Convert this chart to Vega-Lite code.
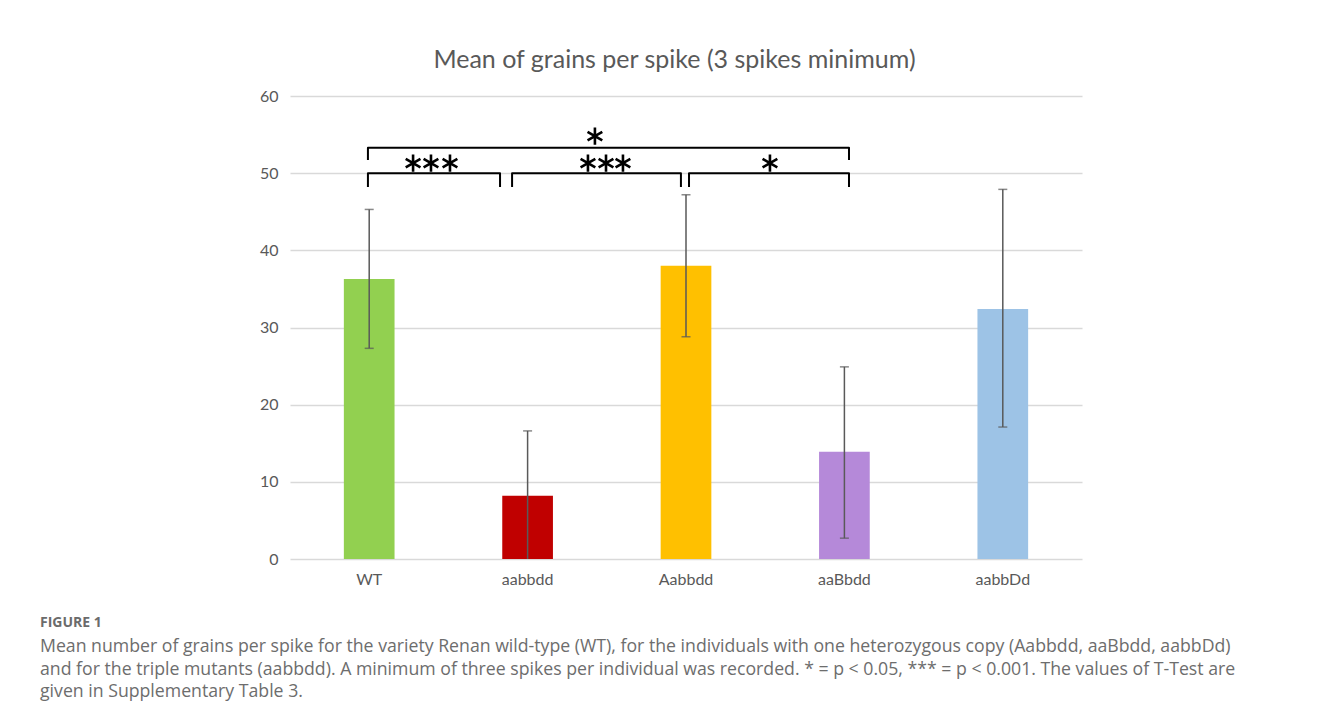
{
  "$schema": "https://vega.github.io/schema/vega-lite/v6.json",
  "autosize": "none",
  "width": 792,
  "height": 463,
  "padding": {"left": 290, "top": 96, "right": 237, "bottom": 165},
  "background": "white",
  "config": {
    "view": {"stroke": null},
    "font": "Lato",
    "axisY": {
      "title": null,
      "grid": true,
      "gridColor": "#d9d9d9",
      "gridWidth": 1.5,
      "domain": false,
      "ticks": false,
      "labelFont": "Lato",
      "labelFontSize": 16,
      "labelColor": "#595959",
      "labelPadding": 12
    }
  },
  "title": {
    "text": "FIGURE 1",
    "subtitle": [
      "Mean number of grains per spike for the variety Renan wild-type (WT), for the individuals with one heterozygous copy (Aabbdd, aaBbdd, aabbDd)",
      "and for the triple mutants (aabbdd). A minimum of three spikes per individual was recorded. * = p < 0.05, *** = p < 0.001. The values of T-Test are",
      "given in Supplementary Table 3."
    ],
    "orient": "bottom",
    "anchor": "start",
    "frame": "group",
    "dx": -250,
    "offset": 29,
    "font": "Open Sans",
    "fontSize": 14,
    "fontWeight": "bold",
    "color": "#6b6b6b",
    "subtitleFont": "Open Sans",
    "subtitleFontSize": 17.7,
    "subtitleColor": "#6d6d6d",
    "subtitleLineHeight": 22.7,
    "subtitlePadding": 8
  },
  "datasets": {
    "bars": [
      {"genotype": "WT", "mean": 36.3, "low": 27.3, "high": 45.3},
      {"genotype": "aabbdd", "mean": 8.2, "low": -0.3, "high": 16.6},
      {"genotype": "Aabbdd", "mean": 38.0, "low": 28.8, "high": 47.2},
      {"genotype": "aaBbdd", "mean": 13.9, "low": 2.7, "high": 24.9},
      {"genotype": "aabbDd", "mean": 32.4, "low": 17.1, "high": 47.9}
    ],
    "brackets": [
      {"b": "WT-aabbdd", "o": 1, "x": 0.992, "y": 48.2},
      {"b": "WT-aabbdd", "o": 2, "x": 0.992, "y": 50.0},
      {"b": "WT-aabbdd", "o": 3, "x": 1.826, "y": 50.0},
      {"b": "WT-aabbdd", "o": 4, "x": 1.826, "y": 48.2},
      {"b": "aabbdd-Aabbdd", "o": 1, "x": 1.902, "y": 48.2},
      {"b": "aabbdd-Aabbdd", "o": 2, "x": 1.902, "y": 50.0},
      {"b": "aabbdd-Aabbdd", "o": 3, "x": 2.968, "y": 50.0},
      {"b": "aabbdd-Aabbdd", "o": 4, "x": 2.968, "y": 48.2},
      {"b": "Aabbdd-aaBbdd", "o": 1, "x": 3.019, "y": 48.2},
      {"b": "Aabbdd-aaBbdd", "o": 2, "x": 3.019, "y": 50.0},
      {"b": "Aabbdd-aaBbdd", "o": 3, "x": 4.029, "y": 50.0},
      {"b": "Aabbdd-aaBbdd", "o": 4, "x": 4.029, "y": 48.2},
      {"b": "WT-aaBbdd", "o": 1, "x": 0.992, "y": 51.7},
      {"b": "WT-aaBbdd", "o": 2, "x": 0.992, "y": 53.3},
      {"b": "WT-aaBbdd", "o": 3, "x": 4.029, "y": 53.3},
      {"b": "WT-aaBbdd", "o": 4, "x": 4.029, "y": 51.7}
    ],
    "stars": [
      {"x": 1.277, "y": 51.3},
      {"x": 1.390, "y": 51.3},
      {"x": 1.510, "y": 51.3},
      {"x": 2.381, "y": 51.3},
      {"x": 2.495, "y": 51.3},
      {"x": 2.602, "y": 51.3},
      {"x": 3.530, "y": 51.3},
      {"x": 2.425, "y": 54.8}
    ]
  },
  "layer": [
    {
      "data": {"name": "bars"},
      "encoding": {
        "x": {
          "field": "genotype",
          "type": "nominal",
          "sort": null,
          "scale": {"paddingInner": 0.68, "paddingOuter": 0.34},
          "axis": {
            "title": null,
            "labelAngle": 0,
            "labelFont": "Lato",
            "labelFontSize": 16,
            "labelColor": "#595959",
            "labelPadding": 12,
            "ticks": false,
            "domain": false
          }
        }
      },
      "layer": [
        {
          "mark": {"type": "bar", "stroke": null},
          "encoding": {
            "y": {
              "field": "mean",
              "type": "quantitative",
              "scale": {"domain": [0, 60], "nice": false},
              "axis": {"title": null, "values": [0, 10, 20, 30, 40, 50, 60]}
            },
            "color": {
              "field": "genotype",
              "type": "nominal",
              "legend": null,
              "scale": {
                "domain": ["WT", "aabbdd", "Aabbdd", "aaBbdd", "aabbDd"],
                "range": ["#92d050", "#c00000", "#ffc000", "#b589d9", "#9dc3e6"]
              }
            }
          }
        },
        {
          "mark": {"type": "rule", "color": "#595959", "strokeWidth": 1.5, "clip": true},
          "encoding": {
            "y": {"field": "low", "type": "quantitative"},
            "y2": {"field": "high"}
          }
        },
        {
          "mark": {"type": "tick", "color": "#595959", "size": 9, "thickness": 1.5, "clip": true},
          "encoding": {"y": {"field": "low", "type": "quantitative"}}
        },
        {
          "mark": {"type": "tick", "color": "#595959", "size": 9, "thickness": 1.5, "clip": true},
          "encoding": {"y": {"field": "high", "type": "quantitative"}}
        }
      ]
    },
    {
      "encoding": {
        "x": {
          "field": "x",
          "type": "quantitative",
          "scale": {"domain": [0.5, 5.5], "nice": false, "zero": false},
          "axis": {
            "orient": "top",
            "title": "Mean of grains per spike (3 spikes minimum)",
            "labels": false,
            "ticks": false,
            "domain": false,
            "grid": false,
            "titleFont": "Lato",
            "titleFontSize": 25,
            "titleFontWeight": "normal",
            "titleColor": "#595959",
            "titlePadding": 24,
            "titleX": 384
          }
        },
        "y": {"field": "y", "type": "quantitative", "axis": {"title": null, "values": [0, 10, 20, 30, 40, 50, 60]}}
      },
      "layer": [
        {
          "data": {"name": "brackets"},
          "mark": {"type": "line", "color": "black", "strokeWidth": 2, "strokeJoin": "round"},
          "encoding": {
            "detail": {"field": "b", "type": "nominal"},
            "order": {"field": "o", "type": "quantitative"}
          }
        },
        {
          "data": {"name": "stars"},
          "mark": {
            "type": "point",
            "shape": "M0,-1L0,1M-0.866,-0.5L0.866,0.5M-0.866,0.5L0.866,-0.5",
            "filled": false,
            "stroke": "black",
            "strokeWidth": 2.6,
            "size": 290,
            "opacity": 1
          }
        }
      ]
    }
  ],
  "resolve": {"scale": {"x": "independent"}}
}
